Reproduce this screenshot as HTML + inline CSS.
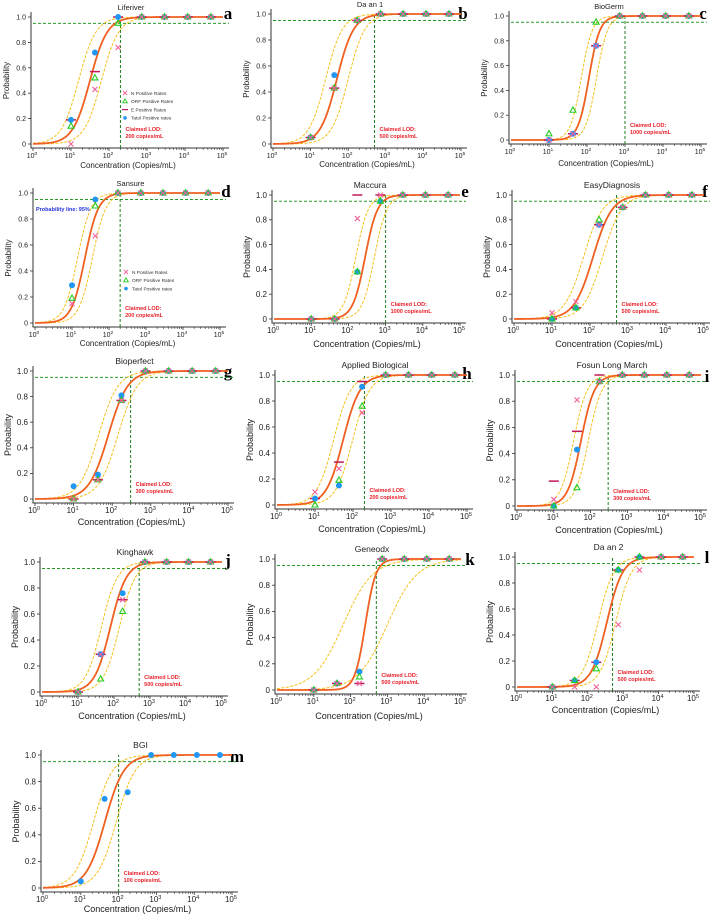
<!DOCTYPE html>
<html><head><meta charset="utf-8">
<style>
html,body{margin:0;padding:0;background:#fff;}
svg{display:block;font-family:"Liberation Sans",sans-serif;}
</style></head>
<body>
<svg id="fig" width="714" height="918" viewBox="0 0 714 918" xmlns="http://www.w3.org/2000/svg"></svg>
<script>
// ---- data ----
const concLog = [1, 1.63, 2.24, 2.86, 3.46, 4.07, 4.68];
const panelTitles = ["Liferiver","Da an 1","BioGerm","Sansure","Maccura","EasyDiagnosis","Bioperfect","Applied Biological","Fosun Long March","Kinghawk","Geneodx","Da an 2","BGI"];
const panelLetters = ["a","b","c","d","e","f","g","h","i","j","k","l","m"];
const lodValues = [200, 500, 1000, 200, 1000, 500, 300, 200, 300, 500, 500, 500, 100];
const nRates = [
 [0,.43,.76,1,1,1,1],[.05,.43,.95,1,1,1,1],[0,.05,.76,1,1,1,1],[.15,.67,1,1,1,1,1],
 [0,0,.81,1,1,1,1],[.05,.14,.76,.9,1,1,1],[0,.15,.77,1,1,1,1],[.1,.28,.71,1,1,1,1],
 [.05,.81,.95,1,1,1,1],[0,.29,.71,1,1,1,1],[0,.05,.05,1,1,1,1],[0,0,0,.48,.9,1,1],null];
const orfRates = [
 [.14,.52,.95,1,1,1,1],[.05,.43,.95,1,1,1,1],[.05,.24,.95,1,1,1,1],[.19,.9,1,1,1,1,1],
 [0,0,.38,.95,1,1,1],[0,.09,.8,.9,1,1,1],[0,.15,.77,1,1,1,1],[0,.19,.76,1,1,1,1],
 [0,.14,.95,1,1,1,1],[0,.1,.62,1,1,1,1],[0,.05,.1,1,1,1,1],[0,.05,.14,.9,1,1,1],null];
const eRates = [
 [.19,.57,1,1,1,1,1],[.05,.43,.95,1,1,1,1],[0,.05,.76,1,1,1,1],null,
 [0,0,1,1,1,1,1],[0,.09,.76,.9,1,1,1],[0,.15,.77,1,1,1,1],[.05,.33,.95,1,1,1,1],
 [.19,.57,1,1,1,1,1],[0,.29,.71,1,1,1,1],[0,.05,.05,1,1,1,1],[0,.05,.19,.9,1,1,1],null];
const totalRates = [
 [.19,.72,1,1,1,1,1],[.05,.53,.95,1,1,1,1],[0,.05,.76,1,1,1,1],[.29,.95,1,1,1,1,1],
 [0,0,.38,.95,1,1,1],[0,.09,.76,.9,1,1,1],[.1,.19,.81,1,1,1,1],[.05,.15,.91,1,1,1,1],
 [0,.43,.95,1,1,1,1],[0,.29,.76,1,1,1,1],[0,.05,.14,1,1,1,1],[0,.05,.19,.9,1,1,1],[.05,.67,.72,1,1,1,1]];
const fitMid = [1.5,1.7,2.05,1.35,2.45,2.08,1.9,1.74,1.74,1.9,2.4,2.54,1.64];
const fitSlope = [4.4,4.5,7,5.5,6,4,4,4.5,5.5,4.5,7,4.5,4];
const ciShift = [.3,.3,.2,.2,.25,.25,.25,.25,.2,.25,.6,.25,.3];
const ciSlope = [4.4,4.5,7,5.5,6,4,4,4.5,5.5,4.5,2.5,4.5,4];
const yTicks = [0,.2,.4,.6,.8,1];
const yTickLabels = ["0","0.2","0.4","0.6","0.8","1.0"];
const xTicks = [0,1,2,3,4,5];

// ---- layout (pixels) ----
const layout = [
 {x0:33,x5:223,yt:17,yb:144,fs:7,lx:228,ly:19,ay:168},
 {x0:273,x5:461,yt:14,yb:144,fs:7,lx:463,ly:19,ay:167},
 {x0:511,x5:701,yt:16,yb:140,fs:7,lx:703,ly:19,ay:166},
 {x0:35,x5:220,yt:193,yb:323,fs:7,lx:226,ly:197,ay:346},
 {x0:274,x5:460,yt:195,yb:319,fs:8,lx:465,ly:197,ay:347},
 {x0:514,x5:704,yt:195,yb:319,fs:8,lx:705,ly:197,ay:347},
 {x0:35,x5:228,yt:371,yb:499,fs:8,lx:228,ly:377,ay:525},
 {x0:277,x5:467,yt:375,yb:505,fs:8,lx:467,ly:379,ay:532},
 {x0:517,x5:701,yt:375,yb:506,fs:8,lx:707,ly:382,ay:533},
 {x0:42,x5:222,yt:562,yb:692,fs:8,lx:228,ly:566,ay:719},
 {x0:277,x5:461,yt:559,yb:690,fs:8,lx:470,ly:565,ay:719},
 {x0:517,x5:694,yt:557,yb:687,fs:8,lx:707,ly:563,ay:713},
 {x0:43,x5:232,yt:755,yb:888,fs:8,lx:237,ly:762,ay:912}
];

const NS = "http://www.w3.org/2000/svg";
const svg = document.getElementById("fig");
function mk(tag, attrs, parent){
  const e = document.createElementNS(NS, tag);
  for (const k in attrs) e.setAttribute(k, attrs[k]);
  (parent||svg).appendChild(e);
  return e;
}
function logistic(x, m, k){ return 1/(1+Math.exp(-k*(x-m))); }

panelTitles.forEach((title, i) => {
  const L = layout[i];
  const g = mk("g", {});
  
  
  const sx = v => L.x0 + (L.x5 - L.x0) * v / 5;
  const sy = p => L.yb - (L.yb - L.yt) * p;
  const fs = L.fs;

  const ax = mk("path", {d:`M${L.x0-2},${L.yt-5} L${L.x0-2},${L.yb+4} L${L.x5+6},${L.yb+4}`, fill:"none", stroke:"#333", "stroke-width":1}, g);
  
  
  yTicks.forEach((t, j) => {
    mk("line", {x1:L.x0-5, x2:L.x0-2, y1:sy(t), y2:sy(t), stroke:"#333", "stroke-width":0.8}, g);
    const tl = mk("text", {x:L.x0-7, y:sy(t)+fs*0.35, "font-size":fs, "text-anchor":"end", fill:"#222"}, g);
    tl.textContent = yTickLabels[j];
    
    
  });
  xTicks.forEach(t => {
    mk("line", {x1:sx(t), x2:sx(t), y1:L.yb+4, y2:L.yb+7, stroke:"#333", "stroke-width":0.8}, g);
    if (t < 5) for (let m = 2; m < 10; m++) {
      const xm = sx(t + Math.log10(m));
      mk("line", {x1:xm, x2:xm, y1:L.yb+4, y2:L.yb+6, stroke:"#333", "stroke-width":0.6}, g);
    }
    const tl = mk("text", {x:sx(t)-1, y:L.yb+14, "font-size":fs, "text-anchor":"middle", fill:"#222"}, g);
    tl.textContent = "10";
    const sup = mk("tspan", {dy:-fs*0.4, "font-size":fs*0.7}, tl);
    sup.textContent = String(t);
    
    
  });
  const xt = mk("text", {x:(L.x0+L.x5)/2, y:L.ay, "font-size":fs+1, "text-anchor":"middle", fill:"#222"}, g);
  xt.textContent = "Concentration (Copies/mL)";
  
  
  const yc = (L.yt+L.yb)/2, yx = L.x0 - 24;
  const yt = mk("text", {x:yx, y:yc, "font-size":fs+1, "text-anchor":"middle", fill:"#222", transform:`rotate(-90 ${yx} ${yc})`}, g);
  yt.textContent = "Probability";
  
  
  const tt = mk("text", {x:(L.x0+L.x5)/2+3, y:L.yt-7, "font-size":fs+0.5, "text-anchor":"middle", fill:"#222"}, g);
  tt.textContent = title;
  
  
  const lt = mk("text", {x:L.lx, y:L.ly, "font-size":17, "font-weight":"bold", "font-family":"Liberation Serif, serif", "text-anchor":"middle", fill:"#000"}, g);
  lt.textContent = panelLetters[i];
  
  

  const lodX = sx(Math.log10(lodValues[i]));
  const h95 = mk("line", {x1:L.x0, x2:L.x5+6, y1:sy(.95), y2:sy(.95), stroke:"#2a9a2a", "stroke-width":1, "stroke-dasharray":"3,2"}, g);
  
  
  const vl = mk("line", {x1:lodX, x2:lodX, y1:L.yb+4, y2:sy(1), stroke:"#1f7f1f", "stroke-width":1, "stroke-dasharray":"3,2"}, g);
  
  
  const lodT = mk("text", {x:lodX+5, y:L.yb-13, "font-size":5.5, "font-weight":"bold", fill:"#e8202a"}, g);
  lodT.textContent = "Claimed LOD:";
  
  
  const lodT2 = mk("text", {x:lodX+5, y:L.yb-6, "font-size":5.5, "font-weight":"bold", fill:"#e8202a"}, g);
  lodT2.textContent = lodValues[i] + " copies/mL";
  
  

  function curve(m, k, dash, color, w, name){
    let d = "";
    for (let s = 0; s <= 200; s++) {
      const x = 5*s/200;
      d += (s ? "L" : "M") + sx(x).toFixed(2) + "," + sy(logistic(x, m, k)).toFixed(2);
    }
    const p = mk("path", {d, fill:"none", stroke:color, "stroke-width":w}, g);
    if (dash) p.setAttribute("stroke-dasharray", dash);
    
    
  }
  curve(fitMid[i]-ciShift[i], ciSlope[i], "3,1.5", "#f5c01a", 1, "ci-upper-curve");
  curve(fitMid[i]+ciShift[i], ciSlope[i], "3,1.5", "#f5c01a", 1, "ci-lower-curve");
  curve(fitMid[i], fitSlope[i], null, "#f06020", 1.8, "probit-fit-curve");

  concLog.forEach((c, j) => {
    const x = sx(c);
    if (eRates[i]) {
      const e = mk("line", {x1:x-5, x2:x+5, y1:sy(eRates[i][j]), y2:sy(eRates[i][j]), stroke:"#c2185b", "stroke-width":1.5}, g);
      
      
    }
    if (totalRates[i]) {
      const t = mk("circle", {cx:x, cy:sy(totalRates[i][j]), r:3, fill:"#2196f3"}, g);
      
      
    }
    if (orfRates[i]) {
      const y = sy(orfRates[i][j]);
      const o = mk("path", {d:`M${x},${y-3.3} L${x+3},${y+2} L${x-3},${y+2} Z`, fill:"none", stroke:"#22cc22", "stroke-width":1.1}, g);
      
      
    }
    if (nRates[i]) {
      const y = sy(nRates[i][j]);
      const n = mk("path", {d:`M${x-2.5},${y-2.5} L${x+2.5},${y+2.5} M${x-2.5},${y+2.5} L${x+2.5},${y-2.5}`, stroke:"#f0609a", "stroke-width":1.1}, g);
      
      
    }
  });
});

function legend(x, y, entries){
  const g = mk("g", {});
  
  
  entries.forEach((en, j) => {
    const yy = y + j*8.3, xx = x;
    if (en[0] === "N") mk("path", {d:`M${xx-2},${yy-2} L${xx+2},${yy+2} M${xx-2},${yy+2} L${xx+2},${yy-2}`, stroke:"#f0609a", "stroke-width":0.9}, g);
    if (en[0] === "ORF") mk("path", {d:`M${xx},${yy-2.5} L${xx+2.3},${yy+1.5} L${xx-2.3},${yy+1.5} Z`, fill:"none", stroke:"#22cc22", "stroke-width":0.9}, g);
    if (en[0] === "E") mk("line", {x1:xx-3, x2:xx+3, y1:yy, y2:yy, stroke:"#c2185b", "stroke-width":1.2}, g);
    if (en[0] === "T") mk("circle", {cx:xx, cy:yy, r:1.8, fill:"#2196f3"}, g);
    const t = mk("text", {x:xx+6, y:yy+1.8, "font-size":4.8, fill:"#333"}, g);
    t.textContent = en[1];
    
    
  });
}
legend(125, 93, [["N","N Positive Rates"],["ORF","ORF Positive Rates"],["E","E Positive Rates"],["T","Tatol Positive rates"]]);
legend(126, 272, [["N","N Positive Rates"],["ORF","ORF Positive Rates"],["T","Tatol Positive rates"]]);
const pl = mk("text", {x:36, y:211, "font-size":5.5, "font-weight":"bold", fill:"#2233dd"});
pl.textContent = "Probability line: 95%";


</script>
</body></html>
